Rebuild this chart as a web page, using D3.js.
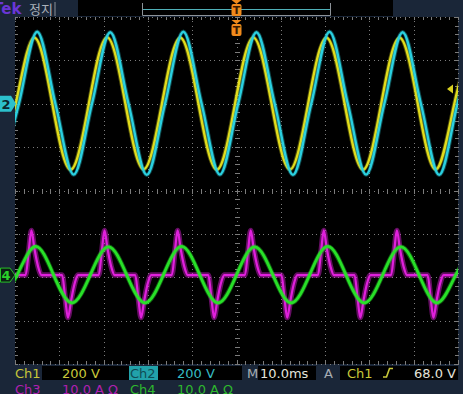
<!DOCTYPE html>
<html><head><meta charset="utf-8">
<script src="https://cdn.jsdelivr.net/npm/d3@7/dist/d3.min.js"></script>
<style>html,body{margin:0;padding:0;background:#1a2638;}svg{display:block;}</style>
</head><body><svg id="c" width="463" height="394"></svg>
<script>
// ---- data (time in ms, Ch1/Ch2 in V, Ch3/Ch4 in A) ----
const ch1Time = [-53.95,-49.825,-45.7,-41.575,-37.45,-33.325,-29.2,-25.075,-20.95,-16.825,-12.7,-8.575,-4.45,-0.325,3.8,7.925,12.05,16.175,20.3,24.425,28.55,32.675,36.8,40.925,45.05,49.175,53.3];
const ch1Volts = [-304,0,304,0,-304,0,306,0,-302,0,304,0,-304,0,305,0,-303,0,304,0,-304,0,304,0,-303,0,304];

const ch2Time = [-53.25,-49.125,-45,-40.875,-36.75,-32.625,-28.5,-24.375,-20.25,-16.125,-12,-7.875,-3.75,0.375,4.5,8.625,12.75,16.875,21,25.125,29.25,33.375,37.5,41.625,45.75,49.875,54];
const ch2Volts = [-327,0,332,0,-327,0,330,0,-328,0,332,0,-327,0,330,0,-328,0,332,0,-327,0,330,0,-328,0,332];

const ch3Time = [-53.05,-52.25,
 -47.6,-46.9,-46.3,-45.6,-44.8,-44.0,
 -39.35,-38.65,-38.05,-37.35,-36.55,-35.75,
 -31.1,-30.4,-29.8,-29.1,-28.3,-27.5,
 -22.85,-22.15,-21.55,-20.85,-20.05,-19.25,
 -14.6,-13.9,-13.3,-12.6,-11.8,-11.0,
 -6.35,-5.65,-5.05,-4.35,-3.55,-2.75,
 1.9,2.6,3.2,3.9,4.7,5.5,
 10.15,10.85,11.45,12.15,12.95,13.75,
 18.4,19.1,19.7,20.4,21.2,22.0,
 26.65,27.35,27.95,28.65,29.45,30.25,
 34.9,35.6,36.2,36.9,37.7,38.5,
 43.15,43.85,44.45,45.15,45.95,46.75,
 51.4,52.1,52.7];
const ch3Amps = [-2,0,
 0,5.5,10.3,6,2,0,
 0,-5.5,-9.8,-6,-2,0,
 0,5.5,10.3,6,2,0,
 0,-5.5,-9.8,-6,-2,0,
 0,5.5,10.3,6,2,0,
 0,-5.5,-9.8,-6,-2,0,
 0,5.5,10.3,6,2,0,
 0,-5.5,-9.8,-6,-2,0,
 0,5.5,10.3,6,2,0,
 0,-5.5,-9.8,-6,-2,0,
 0,5.5,10.3,6,2,0,
 0,-5.5,-9.8,-6,-2,0,
 0,5.5,10.3];

const ch4Time = [-53.65,-49.525,-45.4,-41.275,-37.15,-33.025,-28.9,-24.775,-20.65,-16.525,-12.4,-8.275,-4.15,-0.025,4.1,8.225,12.35,16.475,20.6,24.725,28.85,32.975,37.1,41.225,45.35,49.475,53.6];
const ch4Amps = [-6.4,0,6.6,0,-6.4,0,6.5,0,-6.4,0,6.6,0,-6.4,0,6.5,0,-6.4,0,6.6,0,-6.4,0,6.5,0,-6.4,0,6.6];

const channelNames = ["Ch1","Ch2","Ch3","Ch4"];
const channelScaleText = ["200 V","200 V","10.0 A Ω","10.0 A Ω"];
const voltsPerDiv = 200, ampsPerDiv = 10;
const timebaseText = "10.0ms";
const triggerSource = "Ch1";
const triggerLevelText = "68.0 V";
const statusText = "정지";

// ---- layout ----
const svg = d3.select("#c");
const L = 15, R = 458, T = 17, B = 364;
const x = d3.scaleLinear().domain([-50, 50]).range([L, R]);
const xDiv = d3.scaleLinear().domain([-5, 5]).range([L, R]);
const yDiv = d3.scaleLinear().domain([-4, 4]).range([B, T]);
const off12 = 2, off34 = -1.95;

svg.append("rect").attr("width", 463).attr("height", 394).attr("fill", "#1a2638");
svg.append("rect").attr("x", L).attr("y", T).attr("width", R - L).attr("height", B - T).attr("fill", "#000");

// top bar
svg.append("rect").attr("x", 78).attr("y", 0).attr("width", 315).attr("height", 16).attr("fill", "#000");
svg.append("text").attr("x", -7).attr("y", 14).attr("font-family", "DejaVu Sans").attr("font-weight", "bold")
  .attr("font-size", 15).attr("fill", "#6a36d6").text("Tek");
svg.append("text").attr("x", 29).attr("y", 14).attr("font-family", "Noto Sans CJK KR").attr("font-size", 13)
  .attr("fill", "#a9b0b8").text(statusText);
svg.append("line").attr("x1", 55).attr("x2", 55).attr("y1", 2).attr("y2", 16).attr("stroke", "#8a8f96").attr("stroke-width", 1);
const rv = svg.append("g").attr("stroke-width", 1).attr("fill", "none");
rv.append("path").attr("d", "M142.5,3V15.5H330.5V3").attr("stroke", "#8c9298");
rv.append("line").attr("x1", 143).attr("x2", 330).attr("y1", 9.5).attr("y2", 9.5).attr("stroke", "#4fb0b8");

// graticule
const grid = svg.append("g").attr("fill", "#7c7c7c");
const minorX = d3.range(-50, 50.01, 2);   // 1/5 div
const minorY = d3.range(-4, 4.01, 0.2);
const fineX = d3.range(-50, 50.01, 1);
const fineY = d3.range(-4, 4.01, 0.1);
xDiv.ticks(10).forEach(d => {
  if (d === 0) return;
  const xx = Math.round(xDiv(d));
  fineY.forEach(v => grid.append("rect").attr("x", xx).attr("y", Math.round(yDiv(v))).attr("width", 1).attr("height", 1));
});
yDiv.ticks(8).forEach(d => {
  if (d === 0) return;
  const yy = Math.round(yDiv(d));
  fineX.forEach(v => grid.append("rect").attr("x", Math.round(x(v))).attr("y", yy).attr("width", 1).attr("height", 1));
});
// center crosshair
const cx = Math.round(xDiv(0)), cy = Math.round(yDiv(0));
fineY.forEach(v => grid.append("rect").attr("x", cx).attr("y", Math.round(yDiv(v))).attr("width", 1).attr("height", 1));
fineX.forEach(v => grid.append("rect").attr("x", Math.round(x(v))).attr("y", cy).attr("width", 1).attr("height", 1));
minorY.forEach(v => grid.append("rect").attr("x", cx - 2).attr("y", Math.round(yDiv(v))).attr("width", 5).attr("height", 1));
minorX.forEach(v => grid.append("rect").attr("x", Math.round(x(v))).attr("y", cy - 2).attr("width", 1).attr("height", 5));
// edge ticks
minorX.forEach(v => {
  grid.append("rect").attr("x", Math.round(x(v))).attr("y", T).attr("width", 1).attr("height", 3);
  grid.append("rect").attr("x", Math.round(x(v))).attr("y", B - 3).attr("width", 1).attr("height", 3);
});
minorY.forEach(v => {
  grid.append("rect").attr("x", L).attr("y", Math.round(yDiv(v))).attr("width", 3).attr("height", 1);
  grid.append("rect").attr("x", R - 3).attr("y", Math.round(yDiv(v))).attr("width", 3).attr("height", 1);
});

// traces
svg.append("clipPath").attr("id", "pc").append("rect").attr("x", L).attr("y", T).attr("width", R - L).attr("height", B - T);
const traces = svg.append("g").attr("clip-path", "url(#pc)").attr("fill", "none")
  .attr("stroke-linejoin", "round").attr("stroke-linecap", "round");
function trace(times, vals, perDiv, offset, curve, color, w, haloW, haloOp) {
  const gen = d3.line().x((d, i) => x(times[i])).y(d => yDiv(d / perDiv + offset)).curve(curve);
  const dd = gen(vals);
  traces.append("path").attr("d", dd).attr("stroke", color).attr("stroke-width", haloW).attr("stroke-opacity", haloOp);
  traces.append("path").attr("d", dd).attr("stroke", color).attr("stroke-width", w);
}
trace(ch1Time, ch1Volts, voltsPerDiv, off12, d3.curveNatural, "#e2dc1c", 2.4, 4.2, 0.35);
trace(ch2Time, ch2Volts, voltsPerDiv, off12, d3.curveCardinal.tension(0), "#2ad0e0", 2.4, 4.4, 0.35);
trace(ch3Time, ch3Amps, ampsPerDiv, off34, d3.curveMonotoneX, "#e020dc", 2.2, 5.5, 0.45);
trace(ch4Time, ch4Amps, ampsPerDiv, off34, d3.curveNatural, "#28e028", 2.8, 4.6, 0.4);

// ground markers
const g2y = yDiv(off12), g4y = yDiv(off34);
svg.append("path").attr("d", `M0,${g2y-8}H11L16,${g2y}L11,${g2y+8}H0Z`).attr("fill", "#2cc0cc");
svg.append("text").attr("x", 1.5).attr("y", g2y + 5).attr("font-family", "DejaVu Sans").attr("font-weight", "bold")
  .attr("font-size", 13).attr("fill", "#0b2830").text("2");
svg.append("path").attr("d", `M0.5,${g4y-7}H10L15,${g4y}L10,${g4y+7}H0.5Z`).attr("fill", "#0c1f14").attr("stroke", "#27c027").attr("stroke-width", 1);
svg.append("text").attr("x", 1.5).attr("y", g4y + 5).attr("font-family", "DejaVu Sans").attr("font-weight", "bold")
  .attr("font-size", 13).attr("fill", "#2ad02a").text("4");

// trigger level marker (Ch1, 68 V)
const tl = yDiv(68 / voltsPerDiv + off12);
svg.append("path").attr("d", `M447,${tl}L453,${tl-4.5}V${tl+4.5}Z`).attr("fill", "#d8d020");

// trigger position markers
const tx = xDiv(0);
function tMarker(y0) {
  svg.append("path").attr("d", `M${tx-5},${y0}H${tx+5}L${tx},${y0+4}Z`).attr("fill", "#f08a1c");
  svg.append("rect").attr("x", tx - 5).attr("y", y0 + 4).attr("width", 10).attr("height", 12).attr("rx", 2).attr("fill", "#f08a1c");
  svg.append("text").attr("x", tx).attr("y", y0 + 14).attr("text-anchor", "middle").attr("font-family", "DejaVu Sans")
    .attr("font-weight", "bold").attr("font-size", 11).attr("fill", "#3a1a00").text("T");
}
tMarker(0);
tMarker(20);

// status bar
const st = svg.append("g").attr("font-family", "DejaVu Sans").attr("font-size", 13);
st.append("rect").attr("x", 42).attr("y", 366).attr("width", 87).attr("height", 14).attr("fill", "#000");
st.append("rect").attr("x", 158).attr("y", 366).attr("width", 84).attr("height", 14).attr("fill", "#000");
st.append("rect").attr("x", 258).attr("y", 366).attr("width", 58).attr("height", 14).attr("fill", "#000");
st.append("rect").attr("x", 340).attr("y", 366).attr("width", 118).attr("height", 14).attr("fill", "#000");
st.append("rect").attr("x", 129).attr("y", 366).attr("width", 29).attr("height", 14).attr("fill", "#22a2aa");
const r1 = 378, r2 = 394;
st.append("text").attr("x", 15).attr("y", r1).attr("fill", "#c8c83a").text(channelNames[0]);
st.append("text").attr("x", 62).attr("y", r1).attr("fill", "#c8c83a").text(channelScaleText[0]);
st.append("text").attr("x", 130).attr("y", r1).attr("fill", "#0f4c54").text(channelNames[1]);
st.append("text").attr("x", 177).attr("y", r1).attr("fill", "#36bcc4").text(channelScaleText[1]);
st.append("text").attr("x", 15).attr("y", r2).attr("fill", "#b020b0").text(channelNames[2]);
st.append("text").attr("x", 62).attr("y", r2).attr("fill", "#b020b0").attr("xml:space", "preserve").text(channelScaleText[2]);
st.append("text").attr("x", 130).attr("y", r2).attr("fill", "#2eb82e").text(channelNames[3]);
st.append("text").attr("x", 177).attr("y", r2).attr("fill", "#2eb82e").text(channelScaleText[3]);
st.append("text").attr("x", 247).attr("y", r1).attr("fill", "#a8aeb4").text("M");
st.append("text").attr("x", 260).attr("y", r1).attr("fill", "#e4e4dc").text(timebaseText);
st.append("text").attr("x", 324).attr("y", r1).attr("fill", "#a8aeb4").text("A");
st.append("text").attr("x", 347).attr("y", r1).attr("fill", "#c8c83a").text(triggerSource);
st.append("path").attr("d", "M383,377H386.5L389.5,368.5H393").attr("fill", "none").attr("stroke", "#c8c83a").attr("stroke-width", 1.6);
st.append("text").attr("x", 456).attr("y", r1).attr("text-anchor", "end").attr("fill", "#e4e4dc").text(triggerLevelText);
</script></body></html>
